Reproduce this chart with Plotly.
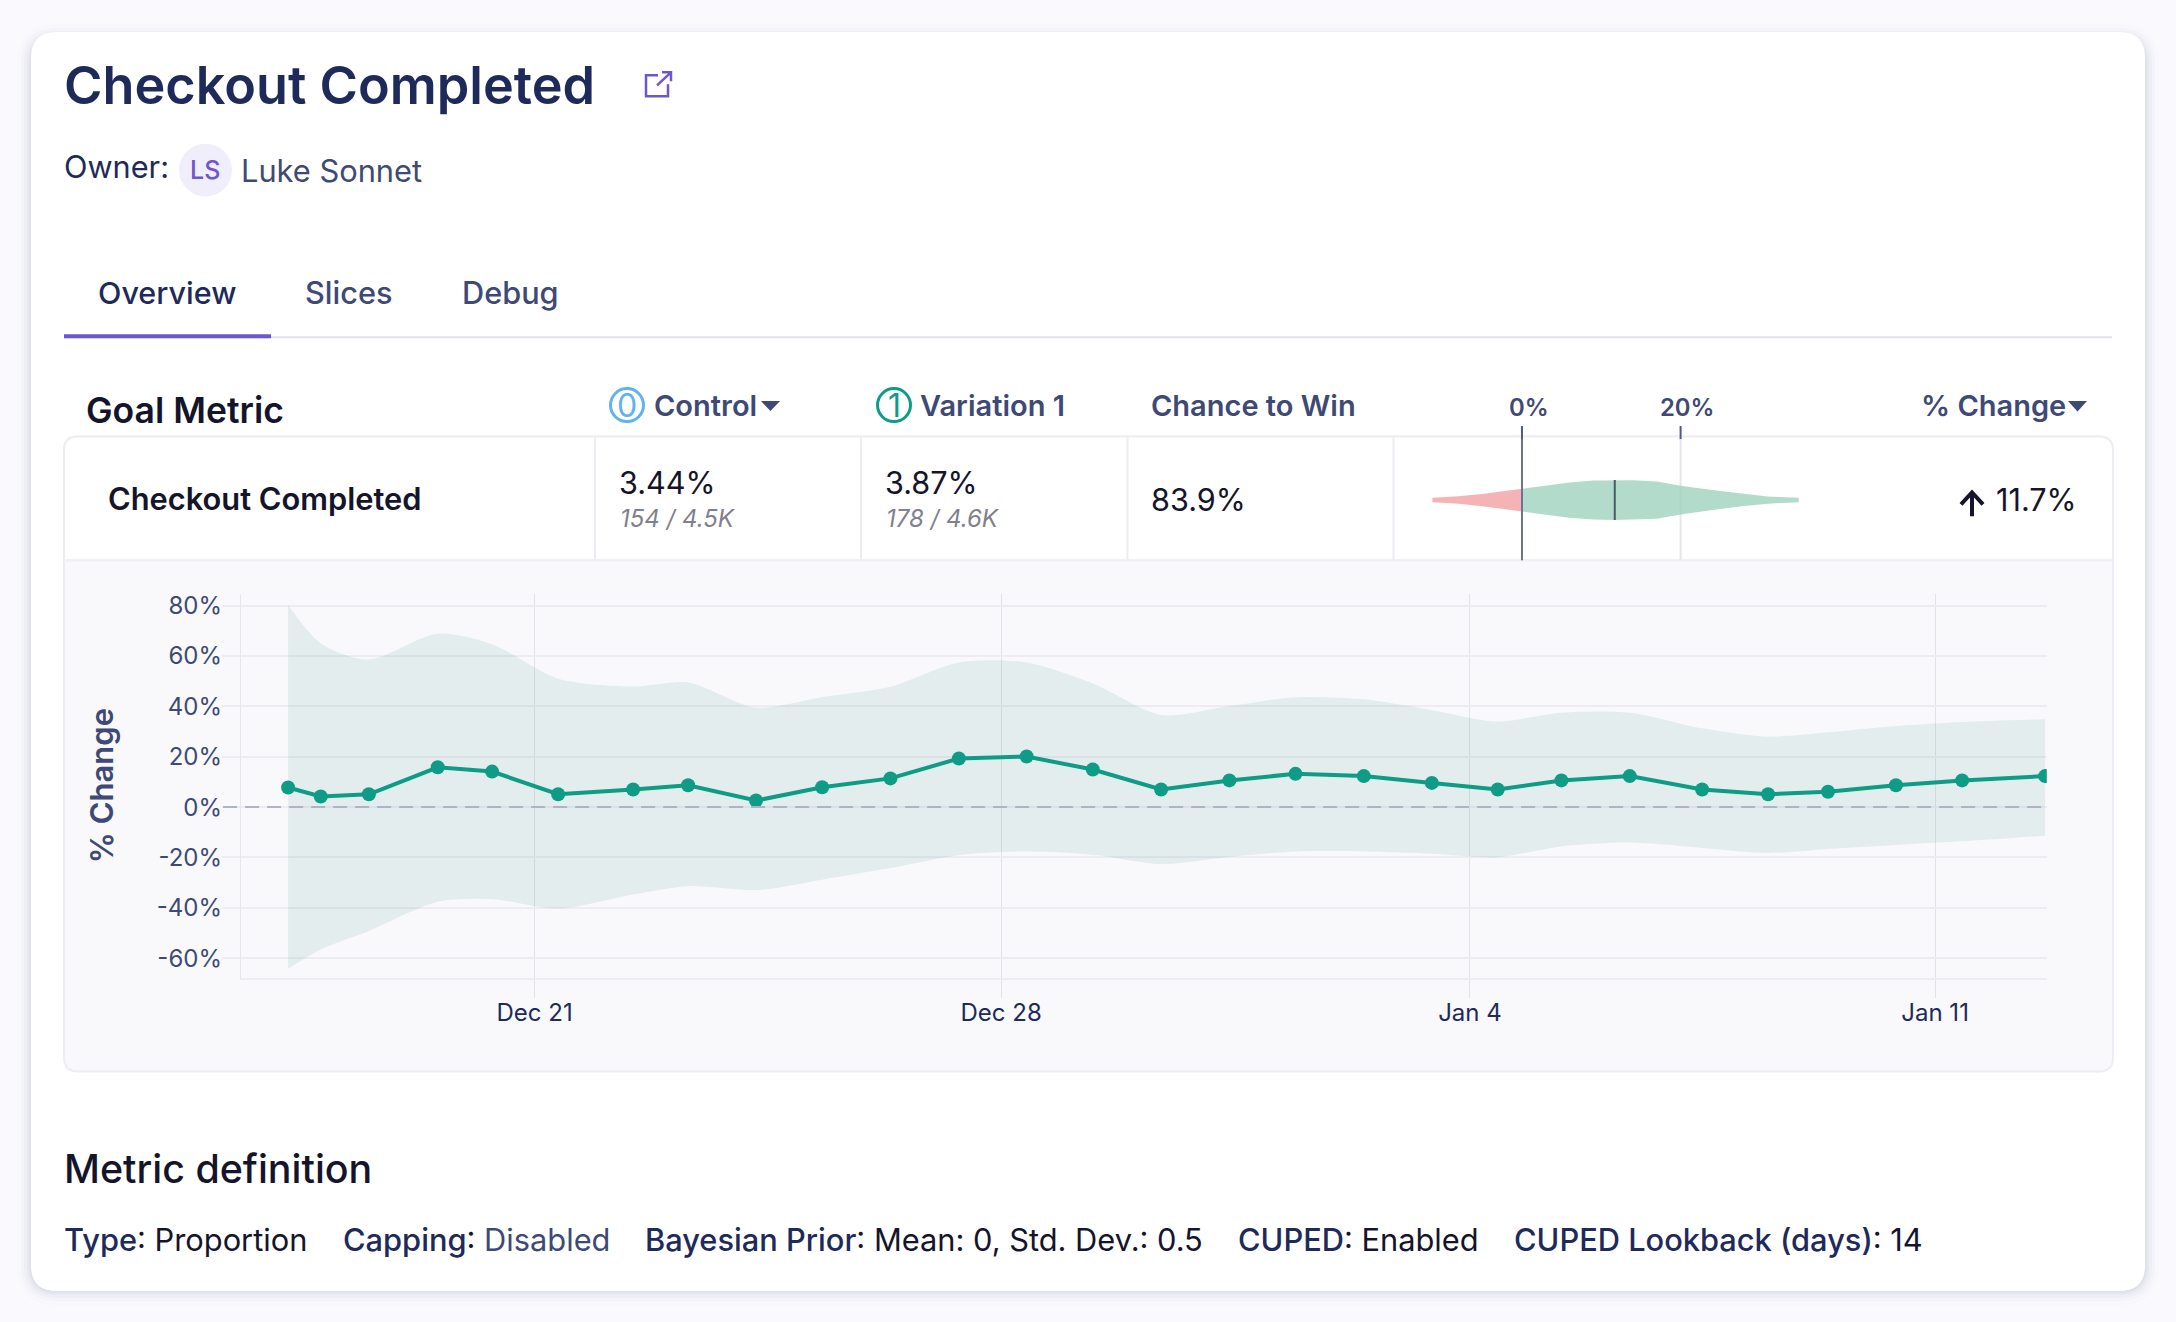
import plotly.graph_objects as go

W = 2176
H = 1322

# chart values
dates = ["2023-12-17 07:13", "2023-12-17 18:58", "2023-12-18 12:19", "2023-12-19 13:06",
         "2023-12-20 08:41", "2023-12-21 08:28", "2023-12-22 11:28", "2023-12-23 07:16",
         "2023-12-24 07:44", "2023-12-25 07:32", "2023-12-26 08:08", "2023-12-27 08:47",
         "2023-12-28 09:11", "2023-12-29 09:00", "2023-12-30 09:36", "2023-12-31 10:12",
         "2024-01-01 10:00", "2024-01-02 10:36", "2024-01-03 11:07", "2024-01-04 10:50",
         "2024-01-05 09:46", "2024-01-06 10:23", "2024-01-07 12:26", "2024-01-08 12:12",
         "2024-01-09 09:46", "2024-01-10 10:15", "2024-01-11 10:05", "2024-01-12 15:58"]
change = [7.8, 4.2, 5.1, 15.8, 14.1, 5.1, 7.0, 8.7, 2.6, 7.9, 11.4, 19.3, 20.1, 14.9,
          7.0, 10.6, 13.2, 12.3, 9.6, 7.0, 10.6, 12.3, 7.0, 5.1, 6.1, 8.7, 10.6, 12.3]
upper = [80.3, 65.0, 58.6, 68.9, 64.7, 51.0, 47.9, 49.5, 39.5, 43.7, 47.8, 57.4, 57.4, 49.1,
         36.6, 40.1, 43.6, 42.8, 38.5, 34.0, 37.5, 37.5, 31.3, 28.0, 29.7, 32.2, 33.8, 34.9]
lower = [-64.2, -56.5, -49.2, -37.6, -36.6, -40.3, -34.7, -31.4, -33.0, -28.8, -24.2, -19.1,
         -17.6, -18.9, -22.6, -19.8, -17.6, -17.6, -18.5, -19.9, -15.6, -14.1, -16.2, -18.2,
         -16.6, -15.0, -13.6, -11.4]

y_ticks = [80, 60, 40, 20, 0, -20, -40, -60]
y_labels = ["80%", "60%", "40%", "20%", "0%", "-20%", "-40%", "-60%"]
x_ticks = ["2023-12-21", "2023-12-28", "2024-01-04 00:50", "2024-01-11 00:20"]
x_labels = ["Dec 21", "Dec 28", "Jan 4", "Jan 11"]

# little violin in the table row
loss_pct = [-11.3, -8, -5, -2, 0]
loss_density = [0.11, 0.19, 0.31, 0.46, 0.57]
win_pct = [0, 3, 6, 9, 11.7, 14, 17, 20, 24, 28, 31, 34.9]
win_density = [0.57, 0.73, 0.88, 0.98, 1.0, 0.99, 0.93, 0.72, 0.5, 0.3, 0.18, 0.11]
mean_change = 11.7
mini_ticks = [0, 20]

INK = "#14142B"
NAVY = "#1E2A5A"
SLATE = "#3E4A75"
PURPLE = "#6E56CF"
TEAL = "#0E9C86"
FONT = "Inter"


def px(x):
    return x / W


def py(y):
    return 1 - y / H


def rounded(x0, y0, x1, y1, r):
    # path in paper coordinates, y given from the top of the page
    pts = [("M", x0 + r, y0), ("L", x1 - r, y0), ("Q", x1, y0, x1, y0 + r), ("L", x1, y1 - r),
           ("Q", x1, y1, x1 - r, y1), ("L", x0 + r, y1), ("Q", x0, y1, x0, y1 - r),
           ("L", x0, y0 + r), ("Q", x0, y0, x0 + r, y0)]
    out = ""
    for p in pts:
        nums = [px(v) if i % 2 == 0 else py(v) for i, v in enumerate(p[1:])]
        out += p[0] + " ".join(str(round(n, 5)) for n in nums)
    return out + "Z"


def poly(points, close=False):
    out = ""
    for i, (x, y) in enumerate(points):
        out += ("M" if i == 0 else "L") + f"{px(x):.5f} {py(y):.5f}"
    return out + ("Z" if close else "")


shapes = []
annotations = []


def path(d, fill=None, line=None, width=0, opacity=1):
    shapes.append(dict(type="path", path=d, xref="paper", yref="paper", layer="below",
                       fillcolor=fill or "rgba(0,0,0,0)", opacity=opacity,
                       line=dict(color=line or "rgba(0,0,0,0)", width=width)))


def rule(x0, y0, x1, y1, color, width=2):
    shapes.append(dict(type="line", xref="paper", yref="paper", layer="below",
                       x0=px(x0), x1=px(x1), y0=py(y0), y1=py(y1),
                       line=dict(color=color, width=width)))


def text(x, y, s, size, color=INK, weight=400, anchor="left", italic=False):
    annotations.append(dict(x=px(x), y=py(y), xref="paper", yref="paper", text=s, showarrow=False,
                            xanchor=anchor, yanchor="middle", borderpad=0, borderwidth=0,
                            font=dict(family=FONT, size=size, color=color, weight=weight,
                                      style="italic" if italic else "normal")))


# card and its soft shadow
for i, grow in enumerate([14, 10, 7, 4, 2]):
    path(rounded(31 - grow, 29 - grow + 6, 2145 + grow, 1291 + grow, 26 + grow),
         fill="rgba(60,60,110,1)", opacity=0.012 + i * 0.006)
path(rounded(31, 29, 2145, 1291, 26), fill="#FFFFFF")

# table box
ROW_TOP = 434.5
ROW_BOT = 558.6
path(rounded(64, ROW_TOP, 2113, 1071, 14), fill="#F9F9FB", line="#EDEDF3", width=2)
path("M" + f"{px(64):.5f} {py(ROW_BOT):.5f}" + "L" + f"{px(64):.5f} {py(ROW_TOP + 14):.5f}"
     + f"Q{px(64):.5f} {py(ROW_TOP):.5f} {px(78):.5f} {py(ROW_TOP):.5f}"
     + "L" + f"{px(2099):.5f} {py(ROW_TOP):.5f}"
     + f"Q{px(2113):.5f} {py(ROW_TOP):.5f} {px(2113):.5f} {py(ROW_TOP + 14):.5f}"
     + "L" + f"{px(2113):.5f} {py(ROW_BOT):.5f}Z", fill="#FFFFFF", line="#EDEDF3", width=2)
rule(64, ROW_BOT, 2113, ROW_BOT, "#F0F0F5", 2)
for cx in [595, 861, 1127.5, 1393.5]:
    rule(cx, ROW_TOP, cx, ROW_BOT, "#EDEDF3", 2)

# header
text(64, 82, "Checkout Completed", 52.2, NAVY, 600)
path(poly([(658, 72.5), (646, 72.5), (646, 93.5), (668, 93.5), (668, 81.5)]), line=PURPLE, width=2.5)
path(poly([(657, 82.5), (671, 69.5)]) + poly([(662, 69.5), (671, 69.5), (671, 78.5)]), line=PURPLE, width=2.5)

text(64, 163.5, "Owner:", 30.7, NAVY)
shapes.append(dict(type="circle", xref="paper", yref="paper", layer="below",
                   x0=px(179), x1=px(232), y0=py(141), y1=py(194),
                   fillcolor="#F1EEFB", line=dict(width=0)))
text(205, 167.5, "LS", 25, PURPLE, 500, "center")
text(241, 167.5, "Luke Sonnet", 30.8, SLATE)

# tabs
text(167, 290.5, "Overview", 30.5, NAVY, 500, "center")
text(305, 290.5, "Slices", 30.7, SLATE, 500)
text(462, 290.5, "Debug", 30.7, SLATE, 500)
rule(64, 335, 2112, 335, "#E2E2EA", 2)
rule(64, 334, 271, 334, PURPLE, 4)

# table header
text(86, 408.5, "Goal Metric", 35.5, INK, 600)
for cx, col, lab in [(627, "#5FB3EE", "0"), (894, TEAL, "1")]:
    shapes.append(dict(type="circle", xref="paper", yref="paper", layer="below",
                       x0=px(cx - 16.5), x1=px(cx + 16.5), y0=py(386.5), y1=py(419.5),
                       fillcolor="rgba(0,0,0,0)", line=dict(color=col, width=3)))
    text(cx, 403.5, lab, 32, col, 400, "center")
text(654, 403, "Control", 29, SLATE, 600)
path(poly([(761, 399), (780, 399), (770.5, 409)], True), fill=SLATE)
text(920, 403, "Variation 1", 29, SLATE, 600)
text(1151, 403, "Chance to Win", 29, SLATE, 600)
text(1529, 405, "0%", 23.8, SLATE, 600, "center")
text(1687, 405, "20%", 23.8, SLATE, 600, "center")
text(1921, 403, "% Change", 29, SLATE, 600)
path(poly([(2068, 399), (2087, 399), (2077.5, 409.5)], True), fill=SLATE)

# table row
text(108, 497, "Checkout Completed", 30.8, INK, 600)
text(619, 481, "3.44%", 30.6, INK)
text(620, 516.5, "154 / 4.5K", 24, "#80808F", 400, italic=True)
text(885, 481, "3.87%", 30.6, INK)
text(886, 516.5, "178 / 4.6K", 24, "#80808F", 400, italic=True)
text(1151, 497.5, "83.9%", 30.6, INK)
text(2076.5, 497.5, "11.7%", 30.6, INK, 400, "right")
path(poly([(1972, 514.5), (1972, 490.5)]) + poly([(1961, 502.5), (1972, 490.5), (1983, 502.5)]),
     line=INK, width=4)

# footer
text(64, 1169, "Metric definition", 39.4, INK, 500)
key = '<span style="font-weight:500;color:%s">%s</span>' % (NAVY, "%s")
text(64, 1239.5, key % "Type" + ": Proportion", 30.8, INK)
text(343, 1239.5, key % "Capping" + ': <span style="color:%s">Disabled</span>' % SLATE, 30.8, INK)
text(645, 1239.5, key % "Bayesian Prior" + ": Mean: 0, Std. Dev.: 0.5", 30.8, INK)
text(1238, 1239.5, key % "CUPED" + ": Enabled", 30.8, INK)
text(1514, 1239.5, key % "CUPED Lookback (days)" + ": 14", 30.8, INK)

# % Change axis title
annotations.append(dict(x=px(101), y=py(785), xref="paper", yref="paper", text="% Change",
                        showarrow=False, textangle=-90, xanchor="center", yanchor="middle",
                        font=dict(family=FONT, size=31, color=SLATE, weight=600)))

# mini axis marks, tied to the x2 scale
for t in mini_ticks:
    shapes.append(dict(type="line", xref="x2", yref="paper", layer="below", x0=t, x1=t,
                       y0=py(424), y1=py(437), line=dict(color="#50597F", width=2)))
shapes.append(dict(type="line", xref="x2", yref="paper", layer="below", x0=mini_ticks[1],
                   x1=mini_ticks[1], y0=py(437), y1=py(ROW_BOT), line=dict(color="#E6E6EC", width=2)))
shapes.append(dict(type="line", xref="x2", yref="paper", layer="above", x0=mini_ticks[0],
                   x1=mini_ticks[0], y0=py(437), y1=py(ROW_BOT), line=dict(color="#6A7096", width=2)))
shapes.append(dict(type="line", xref="x2", yref="y2", layer="above", x0=mean_change,
                   x1=mean_change, y0=-1, y1=1, line=dict(color="#4A5A62", width=2)))

# zero line of the main chart
shapes.append(dict(type="line", xref="x domain", yref="y", layer="above", x0=-0.0098, x1=1, y0=0, y1=0,
                   line=dict(color="#AEB4C5", width=2, dash="14px,8px")))

fig = go.Figure()
fig.add_trace(go.Scatter(x=dates, y=upper, mode="lines", line=dict(width=0, shape="spline", smoothing=0.8),
                         hoverinfo="skip", showlegend=False))
fig.add_trace(go.Scatter(x=dates, y=lower, mode="lines", line=dict(width=0, shape="spline", smoothing=0.8),
                         fill="tonexty", fillcolor="rgba(14,125,115,0.09)", hoverinfo="skip", showlegend=False))
fig.add_trace(go.Scatter(x=dates, y=change, mode="lines+markers", name="% Change",
                         line=dict(color=TEAL, width=4),
                         marker=dict(color=TEAL, size=14), showlegend=False))

fig.add_trace(go.Scatter(x=loss_pct + loss_pct[::-1],
                         y=loss_density + [-d for d in loss_density[::-1]],
                         xaxis="x2", yaxis="y2", mode="lines", fill="toself",
                         fillcolor="#F4B4B5", line=dict(width=0), hoverinfo="skip", showlegend=False))
fig.add_trace(go.Scatter(x=win_pct + win_pct[::-1],
                         y=win_density + [-d for d in win_density[::-1]],
                         xaxis="x2", yaxis="y2", mode="lines", fill="toself",
                         fillcolor="rgba(150,205,185,0.72)", line=dict(width=0), hoverinfo="skip", showlegend=False))

fig.update_layout(
    width=W,
    height=H,
    margin=dict(l=0, r=0, t=0, b=0),
    paper_bgcolor="#F9F9FE",
    plot_bgcolor="rgba(0,0,0,0)",
    font=dict(family=FONT),
    showlegend=False,
    shapes=shapes,
    annotations=annotations,
    xaxis=dict(domain=[px(240.8), px(2046.8)], type="date",
               range=["2023-12-16 14:11", "2024-01-12 16:34"],
               tickmode="array", tickvals=x_ticks, ticktext=x_labels,
               tickfont=dict(size=24, color=NAVY), ticks="outside", ticklen=18, tickwidth=1,
               ticklabelstandoff=-6,
               tickcolor="#E2E2EA", showgrid=True, gridcolor="#E2E2EA", gridwidth=1,
               showline=True, linecolor="#ECECF2", linewidth=2, zeroline=False),
    yaxis=dict(domain=[py(977.6), py(592.6)], range=[-68, 84.5],
               tickmode="array", tickvals=y_ticks, ticktext=y_labels,
               tickfont=dict(size=24, color=SLATE), ticks="outside", ticklen=18, tickwidth=2,
               ticklabelstandoff=-5,
               tickcolor="#ECECF2", showgrid=True, gridcolor="#ECECF2", gridwidth=2,
               showline=True, linecolor="#E6E6EC", linewidth=1, zeroline=False),
    xaxis2=dict(domain=[px(1400), px(1830)], range=[-15.38, 38.84], anchor="y2",
                visible=False, fixedrange=True),
    yaxis2=dict(domain=[py(556.9), py(439.9)], range=[-2.935, 2.915], anchor="x2",
                visible=False, fixedrange=True),
)

fig.write_html("out.html", config=dict(displayModeBar=False),
               post_script="document.body.style.margin='0';")
